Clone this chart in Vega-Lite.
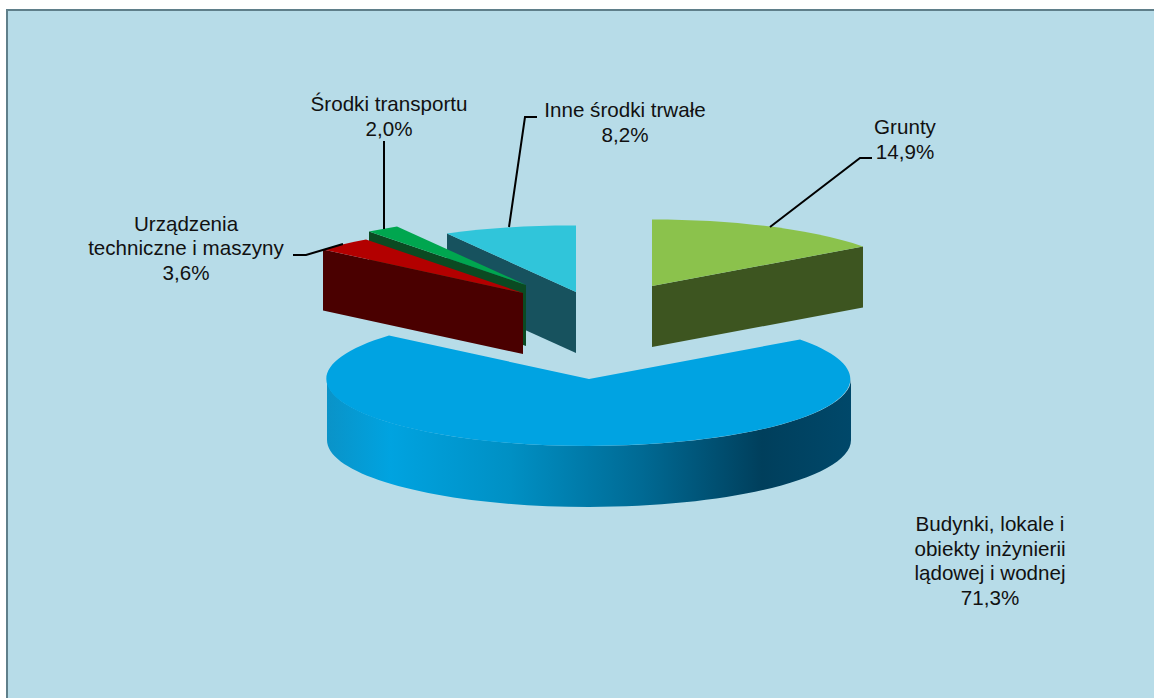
{
  "$schema": "https://vega.github.io/schema/vega-lite/v6.json",
  "autosize": {"type": "fit", "contains": "padding"},
  "width": 1154,
  "height": 698,
  "padding": {"left": 7, "top": 10, "right": -3, "bottom": -3},
  "background": "white",
  "view": {"fill": "#b7dce8", "stroke": "#5f7f8a", "strokeWidth": 2},
  "params": [
    {"name": "rx", "value": 262},
    {"name": "ry", "value": 67},
    {"name": "dep", "value": 61},
    {"name": "apex", "value": {"grunty": [70, -69.5], "budynki": [7, 23.5], "urzadzenia": [-59, -62.5], "srodki": [-56, -70.5], "inne": [-6, -63.5]}},
    {"name": "faceColor", "value": {"grunty": "#3d5520", "urzadzenia": "#4a0000", "srodki": "#0b4a22", "inne": "#17525e"}},
    {"name": "labelAt", "value": {"grunty": [323, -227.5], "budynki": [408, 169.5], "urzadzenia": [-396, -131], "srodki": [-193, -250.5], "inne": [43, -244.5]}},
    {"name": "leader", "value": {"grunty": "M290,-197.5L278,-197.5L188,-128.5", "urzadzenia": "M-289,-100.5L-276,-100.5L-239,-111.5", "srodki": "M-198,-214.5L-198,-126.5", "inne": "M-45,-238.5L-57,-238.5L-73,-128.5"}}
  ],
  "data": {
    "values": [
      {"id": "grunty", "name": "Grunty", "value": 14.9},
      {"id": "budynki", "name": "Budynki, lokale i|obiekty inżynierii|lądowej i wodnej", "value": 71.3},
      {"id": "urzadzenia", "name": "Urządzenia|techniczne i maszyny", "value": 3.6},
      {"id": "srodki", "name": "Środki transportu", "value": 2.0},
      {"id": "inne", "name": "Inne środki trwałe", "value": 8.2}
    ]
  },
  "transform": [{"stack": "value", "groupby": [], "as": ["s", "e"]}],
  "layer": [
    {
      "transform": [{"filter": "datum.id !== 'budynki'"}],
      "mark": {
        "type": "point", "filled": true, "opacity": 1, "size": 4,
        "fill": {"expr": "faceColor[datum.id]"},
        "shape": {"expr": "'M'+apex[datum.id][0]+','+apex[datum.id][1]+'L'+round(apex[datum.id][0]+rx*sin(((datum.s+datum.e)/2<50?datum.e:datum.s)*PI/50))+','+round(apex[datum.id][1]-ry*cos(((datum.s+datum.e)/2<50?datum.e:datum.s)*PI/50))+'L'+round(apex[datum.id][0]+rx*sin(((datum.s+datum.e)/2<50?datum.e:datum.s)*PI/50))+','+(round(apex[datum.id][1]-ry*cos(((datum.s+datum.e)/2<50?datum.e:datum.s)*PI/50))+dep)+'L'+apex[datum.id][0]+','+(apex[datum.id][1]+dep)+'Z'"}
      },
      "encoding": {"order": {"field": "s", "sort": "descending"}}
    },
    {
      "transform": [{"filter": "datum.id === 'budynki'"}],
      "mark": {
        "type": "point", "filled": true, "opacity": 1, "size": 4,
        "fill": {
          "gradient": "linear", "x1": 0, "x2": 1, "y1": 0, "y2": 0,
          "stops": [
            {"offset": 0, "color": "#0a93c8"},
            {"offset": 0.12, "color": "#00a3e0"},
            {"offset": 0.35, "color": "#0090c4"},
            {"offset": 0.6, "color": "#006a94"},
            {"offset": 0.83, "color": "#003f5c"},
            {"offset": 1, "color": "#00486a"}
          ]
        },
        "shape": {"expr": "'M'+(apex[datum.id][0]+rx)+','+apex[datum.id][1]+'A'+rx+','+ry+' 0 0 1 '+(apex[datum.id][0]-rx)+','+apex[datum.id][1]+'L'+(apex[datum.id][0]-rx)+','+(apex[datum.id][1]+dep)+'A'+rx+','+ry+' 0 0 0 '+(apex[datum.id][0]+rx)+','+(apex[datum.id][1]+dep)+'Z'"}
      },
      "encoding": {}
    },
    {
      "mark": {
        "type": "point", "filled": true, "opacity": 1, "size": 4,
        "shape": {"expr": "'M'+apex[datum.id][0]+','+apex[datum.id][1]+'L'+round(apex[datum.id][0]+rx*sin(datum.s*PI/50))+','+round(apex[datum.id][1]-ry*cos(datum.s*PI/50))+'A'+rx+','+ry+' 0 '+(datum.value>50?1:0)+' 1 '+round(apex[datum.id][0]+rx*sin(datum.e*PI/50))+','+round(apex[datum.id][1]-ry*cos(datum.e*PI/50))+'Z'"}
      },
      "encoding": {
        "color": {
          "field": "id", "type": "nominal", "legend": null,
          "scale": {
            "domain": ["grunty", "budynki", "urzadzenia", "srodki", "inne"],
            "range": ["#8bc24c", "#00a3e2", "#b30000", "#00a64f", "#30c5da"]
          }
        },
        "order": {"field": "s", "sort": "descending"}
      }
    },
    {
      "transform": [{"filter": "datum.id !== 'budynki'"}],
      "mark": {
        "type": "point", "filled": false, "opacity": 1, "size": 4,
        "stroke": "#000000", "strokeWidth": 2, "fill": null,
        "shape": {"expr": "leader[datum.id]"}
      },
      "encoding": {}
    },
    {
      "mark": {
        "type": "text", "font": "Liberation Sans", "fontSize": 20.6, "lineHeight": 24.5,
        "align": "center", "baseline": "middle", "color": "#111111",
        "dx": {"expr": "labelAt[datum.id][0]"},
        "dy": {"expr": "labelAt[datum.id][1]"},
        "text": {"expr": "split(datum.name+'|'+replace(format(datum.value,'.1f'),'.',',')+'%','|')"}
      },
      "encoding": {}
    }
  ],
  "config": {"style": {"cell": {"stroke": "#5f7f8a"}}}
}
